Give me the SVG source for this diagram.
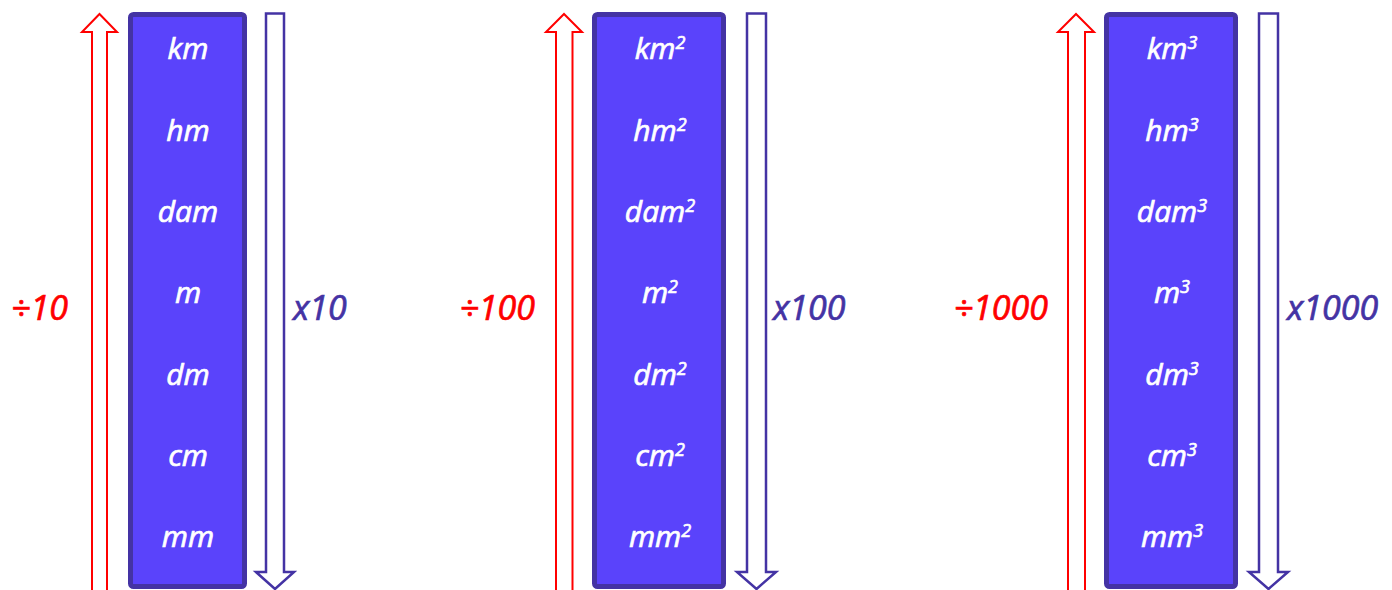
<svg xmlns="http://www.w3.org/2000/svg" width="1392" height="590" viewBox="0 0 1392 590">
<style>
.box{fill:#5a43fb;stroke:#4433a4;stroke-width:5}
.up{fill:#fff;stroke:#ff0000;stroke-width:2}
.down{fill:#fff;stroke:#4433a4;stroke-width:2.5}
.u{font-family:"Open Sans",Lato,sans-serif;font-style:italic;font-weight:400;font-size:30px;fill:#fff;stroke:#fff;stroke-width:0.7px;text-anchor:middle}
.s{font-size:18px}
.r{font-family:"Open Sans",Lato,sans-serif;font-style:italic;font-weight:400;font-size:34px;fill:#ff0000;stroke:#ff0000;stroke-width:0.7px;text-anchor:end}
.p{font-family:"Open Sans",Lato,sans-serif;font-style:italic;font-weight:400;font-size:34px;fill:#4433a4;stroke:#4433a4;stroke-width:0.7px}
</style>
<rect width="1392" height="590" fill="#fff"/>
<g id="connectors">
<polyline class="up" points="92,595 92,32 82,32 99.5,14 117,32 107,32 107,595"/>
<polygon class="down" points="266,13.5 284,13.5 284,572 294,572 275,589 256,572 266,572"/>
<polyline class="up" points="556,595 556,32 546,32 564,14 582,32 572.5,32 572.5,595"/>
<polygon class="down" points="747,13.5 766,13.5 766,572 776,572 756.5,589 737,572 747,572"/>
<polyline class="up" points="1068,595 1068,32 1058,32 1076,14 1094,32 1085,32 1085,595"/>
<polygon class="down" points="1259,13.5 1278,13.5 1278,572 1288,572 1268.5,589 1249,572 1259,572"/>
</g>
<g id="col1">
<rect class="box" x="130.5" y="14.5" width="114" height="572" rx="3"/>
<text class="u" x="188" y="59">km</text>
<text class="u" x="188" y="140.5">hm</text>
<text class="u" x="188" y="222">dam</text>
<text class="u" x="188" y="303">m</text>
<text class="u" x="188" y="384.5">dm</text>
<text class="u" x="188" y="466">cm</text>
<text class="u" x="188" y="547">mm</text>
</g>
<g id="col2">
<rect class="box" x="594.5" y="14.5" width="129" height="572" rx="3"/>
<text class="u" x="660" y="59">km<tspan class="s" dy="-10">2</tspan></text>
<text class="u" x="660" y="140.5">hm<tspan class="s" dy="-10">2</tspan></text>
<text class="u" x="660" y="222">dam<tspan class="s" dy="-10">2</tspan></text>
<text class="u" x="660" y="303">m<tspan class="s" dy="-10">2</tspan></text>
<text class="u" x="660" y="384.5">dm<tspan class="s" dy="-10">2</tspan></text>
<text class="u" x="660" y="466">cm<tspan class="s" dy="-10">2</tspan></text>
<text class="u" x="660" y="547">mm<tspan class="s" dy="-10">2</tspan></text>
</g>
<g id="col3">
<rect class="box" x="1106.5" y="14.5" width="129" height="572" rx="3"/>
<text class="u" x="1172" y="59">km<tspan class="s" dy="-10">3</tspan></text>
<text class="u" x="1172" y="140.5">hm<tspan class="s" dy="-10">3</tspan></text>
<text class="u" x="1172" y="222">dam<tspan class="s" dy="-10">3</tspan></text>
<text class="u" x="1172" y="303">m<tspan class="s" dy="-10">3</tspan></text>
<text class="u" x="1172" y="384.5">dm<tspan class="s" dy="-10">3</tspan></text>
<text class="u" x="1172" y="466">cm<tspan class="s" dy="-10">3</tspan></text>
<text class="u" x="1172" y="547">mm<tspan class="s" dy="-10">3</tspan></text>
</g>
<g id="labels">
<text class="r" x="68" y="320">÷10</text>
<text class="p" x="293" y="320">x10</text>
<text class="r" x="535" y="320">÷100</text>
<text class="p" x="773" y="320">x100</text>
<text class="r" x="1048" y="320">÷1000</text>
<text class="p" x="1287" y="320">x1000</text>
</g>
</svg>
